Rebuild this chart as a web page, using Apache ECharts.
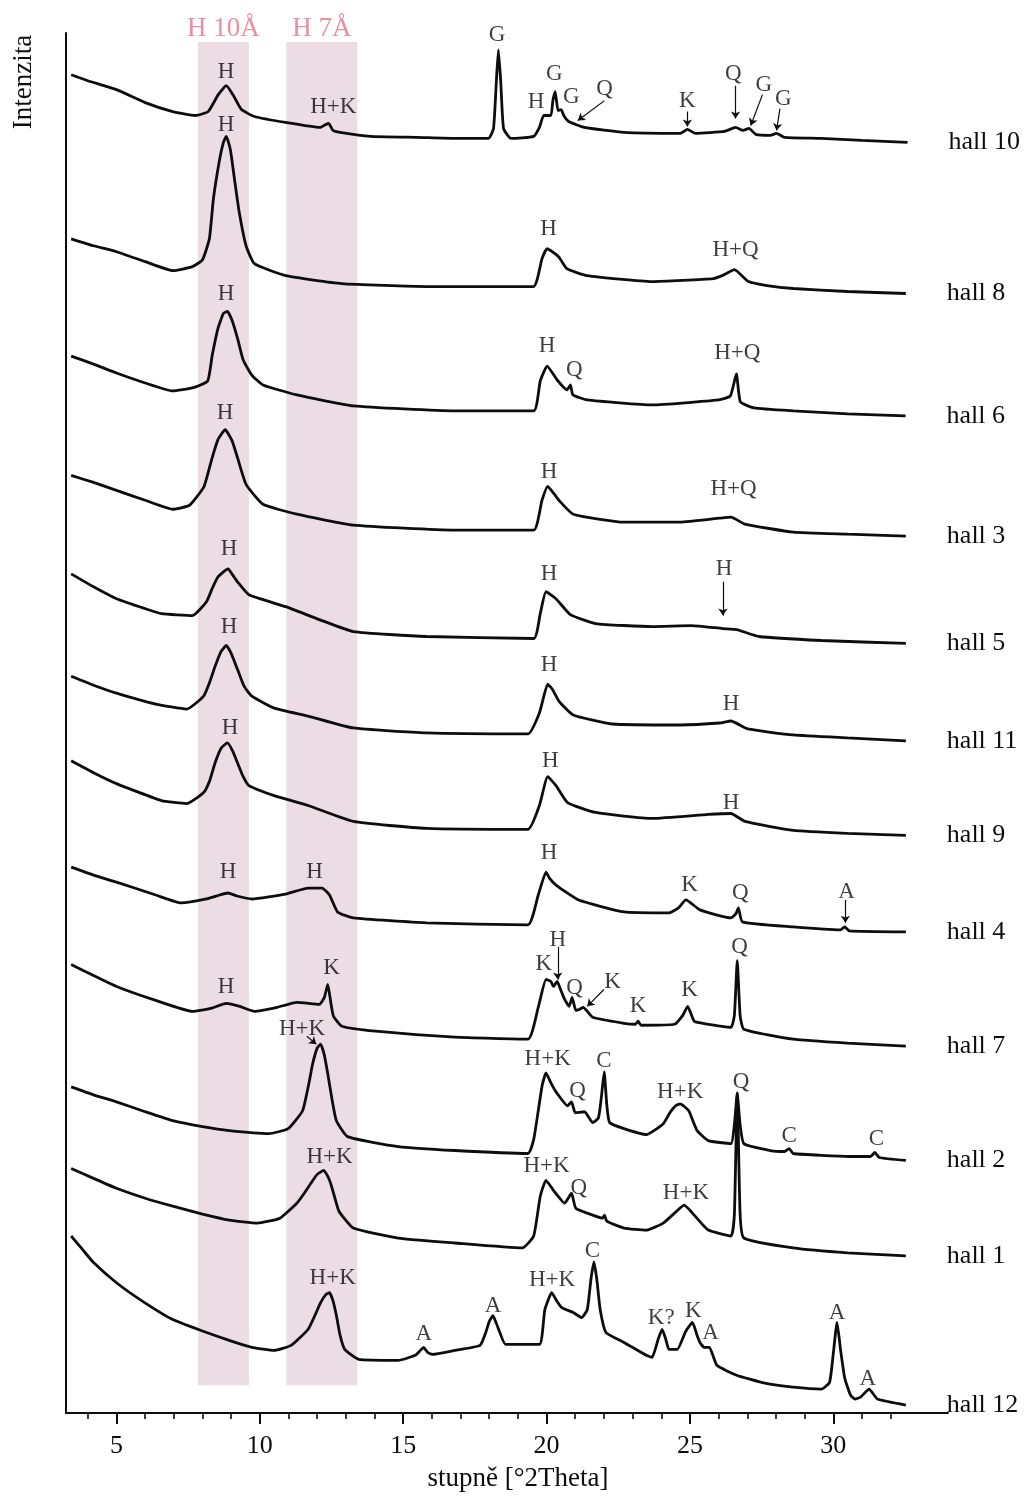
<!DOCTYPE html>
<html>
<head>
<meta charset="utf-8">
<script src="https://cdn.jsdelivr.net/npm/echarts@6/dist/echarts.min.js"></script>
<style>
  html, body { margin: 0; padding: 0; background: #ffffff; }
  #chart { width: 1035px; height: 1497px; }
</style>
</head>
<body>
<div id="chart"></div>
<script>
// XRD patterns of the hall samples, stacked with vertical offsets.
// Each point: [angle in °2Theta, offset intensity]

const hall10 = [
  [3.42,1346],[4.0,1340],[5.0,1331],[6.0,1318],[6.96,1309],[7.75,1305],[8.2,1309],[8.55,1326],[8.83,1335],
  [9.1,1324],[9.36,1311],[9.81,1304],[10.9,1298],[12.1,1293],[12.3,1296],[12.4,1297],[12.55,1290],[12.8,1288],
  [13.85,1284],[15.5,1283],[16.8,1282],[17.97,1282],[18.15,1292],[18.25,1340],[18.32,1371],[18.4,1340],[18.5,1292],
  [18.76,1282],[19.55,1284],[19.75,1293],[19.9,1305],[20.15,1305],[20.22,1320],[20.30,1329],[20.4,1310],[20.51,1311],
  [20.6,1305],[20.77,1299],[21.32,1293],[22.7,1288],[24.66,1287],[24.91,1291],[25.2,1287],[26.2,1289],[26.6,1293],
  [26.85,1290],[27.06,1292],[27.3,1286],[27.8,1285],[28.02,1287],[28.3,1283],[29.58,1282],[31.0,1280],[32.59,1278]
];
const hall8 = [
  [3.42,1181],[4.2,1174],[5.0,1168],[6.0,1158],[6.96,1149],[7.65,1153],[8.0,1160],[8.24,1181],[8.38,1221],
  [8.58,1258],[8.73,1278],[8.83,1284],[8.97,1271],[9.13,1238],[9.28,1208],[9.52,1174],[9.81,1156],[10.9,1144],
  [12.86,1136],[15.81,1133],[19.54,1133],[19.84,1161],[20.02,1171],[20.42,1163],[20.71,1151],[21.41,1144],
  [23.68,1138],[25.82,1141],[26.2,1145],[26.55,1150],[27.04,1138],[27.69,1134],[28.6,1131],[30.5,1128],[32.53,1126]
];
const hall6 = [
  [3.42,1063],[4.2,1055],[5.0,1046],[6.0,1036],[6.96,1028],[7.65,1031],[8.18,1038],[8.34,1064],[8.54,1091],
  [8.73,1106],[8.87,1108],[9.03,1099],[9.22,1081],[9.42,1059],[9.72,1044],[10.11,1034],[11.29,1024],[13.26,1013],
  [16.8,1008],[19.55,1008],[19.78,1038],[20.02,1053],[20.37,1039],[20.71,1029],[20.83,1034],[20.92,1024],
  [21.41,1019],[23.68,1014],[26.0,1019],[26.41,1023],[26.62,1045],[26.76,1017],[27.23,1011],[28.6,1008],
  [30.5,1005],[32.52,1003]
];
const hall3 = [
  [3.42,943],[4.2,936],[5.0,928],[6.0,918],[6.96,909],[7.55,913],[8.04,931],[8.18,944],[8.34,961],[8.54,979],
  [8.79,989],[9.03,978],[9.22,961],[9.52,934],[10.11,914],[11.29,904],[13.26,893],[16.8,888],[19.55,888],
  [19.84,918],[20.04,932],[20.25,925],[20.43,918],[20.93,904],[22.7,896],[24.66,896],[26.04,900],[26.43,901],
  [26.92,894],[28.6,886],[30.5,884],[32.53,882]
];
const hall5 = [
  [3.42,844],[4.2,831],[5.0,819],[6.0,809],[6.57,804],[7.65,802],[8.14,816],[8.35,830],[8.54,841],[8.89,849],
  [9.05,843],[9.22,836],[9.62,823],[10.9,811],[12.08,798],[13.26,786],[15.81,781],[19.55,779],[19.78,804],
  [19.98,826],[20.33,819],[20.83,803],[21.71,794],[23.68,791],[25.05,792],[26.14,789],[26.63,788],[27.41,781],
  [29.58,777],[32.53,774]
];
const hall11 = [
  [3.42,741],[4.2,732],[5.0,724],[6.37,713],[7.45,708],[8.04,721],[8.25,735],[8.44,751],[8.65,766],[8.83,772],
  [9.0,764],[9.22,748],[9.45,731],[9.72,721],[10.5,709],[11.68,701],[13.26,689],[15.81,684],[19.35,683],
  [19.75,704],[20.04,733],[20.2,728],[20.43,716],[20.93,702],[22.3,693],[24.66,692],[26.04,694],[26.43,696],
  [27.02,688],[28.6,682],[30.5,679],[32.53,676]
];
const hall9 = [
  [3.42,656],[4.2,644],[5.0,633],[6.57,616],[7.45,613],[8.04,624],[8.25,636],[8.44,654],[8.66,669],[8.87,674],
  [9.05,666],[9.22,654],[9.42,640],[9.62,631],[10.5,621],[11.68,611],[13.26,595],[15.81,588],[19.35,587],
  [19.75,611],[20.04,640],[20.33,631],[20.73,614],[21.71,604],[23.68,598],[25.64,602],[26.43,603],[26.92,595],
  [28.6,586],[30.5,583],[32.53,581]
];
const hall4 = [
  [3.42,549],[4.2,541],[5.0,534],[6.37,521],[7.26,513],[8.14,517],[8.6,521],[8.89,523],[9.2,520],[9.72,517],
  [10.9,522],[11.68,528],[12.17,528],[12.43,521],[12.71,504],[13.26,498],[15.81,493],[19.35,491],[19.71,521],
  [19.98,544],[20.1,538],[20.33,531],[21.12,516],[22.7,504],[24.27,503],[24.6,508],[24.86,516],[25.35,506],
  [26.43,498],[26.6,502],[26.69,508],[26.83,494],[28.6,489],[30.25,486],[30.4,489],[30.55,485],[32.53,484]
];
const hall7 = [
  [3.42,451],[4.2,440],[5.0,429],[6.37,415],[7.65,404],[8.3,407],[8.83,412],[9.3,409],[9.81,404],[10.6,408],
  [11.29,413],[12.08,411],[12.25,418],[12.37,431],[12.48,412],[12.57,399],[12.86,389],[14.04,384],[16.8,378],
  [19.35,376],[19.71,408],[19.98,436],[20.15,434],[20.24,429],[20.37,434],[20.5,425],[20.63,416],[20.79,409],
  [20.89,418],[21.02,405],[21.15,406],[21.28,408],[21.61,398],[22.7,392],[23.1,391],[23.19,394],[23.3,390],
  [24.46,391],[24.75,400],[24.92,409],[25.15,394],[25.45,392],[26.43,388],[26.55,400],[26.65,455],[26.75,400],
  [26.88,386],[28.6,376],[30.5,372],[32.53,369]
];
const hall2 = [
  [3.42,328],[4.2,320],[5.0,313],[6.0,303],[6.96,294],[8.0,288],[8.93,284],[10.31,281],[10.99,286],[11.49,304],
  [11.7,330],[11.84,351],[12.0,367],[12.12,371],[12.25,360],[12.37,341],[12.52,315],[12.67,294],[13.06,278],
  [14.83,268],[16.8,264],[19.35,261],[19.55,275],[19.71,304],[19.85,330],[19.98,342],[20.15,332],[20.33,323],
  [20.73,309],[20.87,313],[21.0,302],[21.32,303],[21.61,292],[21.81,297],[21.92,320],[22.01,343],[22.1,310],
  [22.2,292],[22.7,286],[23.48,280],[24.07,291],[24.3,302],[24.5,309],[24.66,311],[24.96,304],[25.1,294],
  [25.25,284],[25.64,274],[26.43,271],[26.55,290],[26.65,321],[26.75,290],[26.88,271],[27.81,264],[28.3,263],
  [28.46,266],[28.6,261],[30.56,258],[31.3,258],[31.45,262],[31.6,257],[32.53,254]
];
const hall1 = [
  [3.42,246],[4.2,236],[5.0,226],[6.0,216],[6.96,208],[8.0,200],[8.93,194],[9.91,191],[10.7,196],[11.29,211],
  [11.55,221],[11.78,231],[12.0,240],[12.23,244],[12.37,238],[12.47,231],[12.6,218],[12.76,203],[13.26,186],
  [14.83,176],[16.8,171],[19.15,166],[19.55,178],[19.78,218],[19.98,234],[20.24,224],[20.63,211],[20.87,221],
  [21.02,206],[21.71,198],[21.95,196],[22.02,199],[22.1,193],[22.7,186],[23.48,184],[24.07,191],[24.46,201],
  [24.8,209],[25.15,199],[25.64,184],[26.43,178],[26.55,200],[26.65,322],[26.75,200],[26.88,176],[28.6,166],
  [30.5,161],[32.53,158]
];
const hall12 = [
  [3.42,178],[3.8,165],[4.21,151],[5.0,131],[5.98,111],[6.96,94],[7.95,83],[8.93,73],[9.72,66],[10.5,63],
  [11.09,68],[11.68,84],[11.95,100],[12.12,111],[12.3,119],[12.43,121],[12.55,113],[12.67,98],[12.8,78],
  [12.96,64],[13.45,54],[14.83,53],[15.42,58],[15.6,63],[15.71,66],[15.85,61],[16.01,59],[16.8,63],[17.68,68],
  [17.88,81],[18.0,92],[18.13,98],[18.25,90],[18.37,81],[18.57,69],[19.75,69],[19.94,104],[20.18,121],
  [20.35,113],[20.53,106],[20.93,101],[21.22,96],[21.42,104],[21.55,135],[21.65,152],[21.75,135],[21.87,104],
  [22.07,81],[22.7,71],[23.48,58],[23.68,56],[23.9,75],[24.03,84],[24.15,75],[24.27,64],[24.56,64],[24.85,82],
  [25.09,91],[25.25,78],[25.35,71],[25.5,66],[25.68,66],[25.94,48],[26.63,38],[27.61,30],[28.6,26],[29.58,24],
  [29.87,31],[30.0,60],[30.13,91],[30.26,62],[30.4,35],[30.6,18],[30.76,14],[30.95,16],[31.25,24],[31.54,14],[32.53,8]
];

const sampleNames = ['hall 10','hall 8','hall 6','hall 3','hall 5','hall 11','hall 9','hall 4','hall 7','hall 2','hall 1','hall 12'];
const sampleData  = [hall10, hall8, hall6, hall3, hall5, hall11, hall9, hall4, hall7, hall2, hall1, hall12];

// Phase labels: [angle, intensity, text]
const phaseLabels = [
  // hall 10
  [8.82,1349,'H'],[12.56,1314,'H+K'],[18.27,1386,'G'],[20.27,1347,'G'],[19.63,1319,'H'],[20.86,1324,'G'],
  [22.02,1332,'Q'],[24.91,1320,'K'],[26.51,1347,'Q'],[27.58,1336,'G'],[28.26,1322,'G'],
  // hall 8
  [8.82,1296,'H'],[20.07,1191,'H'],[26.59,1170,'H+Q'],
  // hall 6
  [8.82,1126,'H'],[20.02,1073,'H'],[20.97,1049,'Q'],[26.65,1066,'H+Q'],
  // hall 3
  [8.79,1006,'H'],[20.09,946,'H'],[26.52,929,'H+Q'],
  // hall 5
  [8.93,869,'H'],[20.09,844,'H'],[26.19,849,'H'],
  // hall 11
  [8.93,791,'H'],[20.09,752,'H'],[26.43,713,'H'],
  // hall 9
  [8.96,689,'H'],[20.13,656,'H'],[26.43,614,'H'],
  // hall 4
  [8.89,544,'H'],[11.91,544,'H'],[20.09,563,'H'],[24.99,531,'K'],[26.76,523,'Q'],[30.46,524,'A'],
  // hall 7
  [8.82,429,'H'],[12.5,448,'K'],[19.9,452,'K'],[20.39,476,'H'],[20.98,428,'Q'],[22.3,434,'K'],
  [23.19,409,'K'],[24.99,426,'K'],[26.73,469,'Q'],
  // hall 2
  [11.47,386,'H+K'],[20.04,356,'H+K'],[21.08,324,'Q'],[22.0,354,'C'],[24.66,323,'H+K'],[26.78,333,'Q'],
  [28.46,279,'C'],[31.5,276,'C'],
  // hall 1
  [12.43,258,'H+K'],[20.0,248,'H+K'],[21.12,226,'Q'],[24.86,221,'H+K'],
  // hall 12
  [12.54,136,'H+K'],[15.72,80,'A'],[18.13,108,'A'],[20.19,134,'H+K'],[21.6,163,'C'],[24.0,96,'K?'],
  [25.12,103,'K'],[25.72,81,'A'],[30.13,101,'A'],[31.2,34,'A']
];

// Pointer arrows from a label to its peak: [[x1, y1], [x2, y2]]
const pointerArrows = [
  [[22.02,1320],[21.09,1300]],
  [[24.91,1309],[24.91,1294]],
  [[26.59,1335],[26.59,1302]],
  [[27.53,1326],[27.12,1295]],
  [[28.14,1312],[28.02,1290]],
  [[26.15,836],[26.15,802]],
  [[30.42,516],[30.42,493]],
  [[20.39,469],[20.39,436]],
  [[22.0,426],[21.42,409]],
  [[11.64,379],[11.97,371]]
];

// Shaded reflection ranges: [from, to, caption]
const bandRanges = [
  [7.84, 9.62, 'H 10Å'],
  [10.92, 13.4, 'H 7Å']
];
const bandBottom = 28;
const bandTop = 1379;

const majorTicks = [5, 10, 15, 20, 25, 30];
const minorTicks = [4,5,6,7,8,9,10,11,12,13,14,15,16,17,18,19,20,21,22,23,24,25,26,27,28,29,30,31,32];

const serif = '"Liberation Serif", "Times New Roman", serif';
const ink = '#0d0d0d';
const xMin = 3.24, xMax = 34.0;

const chart = echarts.init(document.getElementById('chart'), null, { renderer: 'canvas' });

const series = [];

series.push({
  type: 'line',
  data: [],
  silent: true,
  z: 1,
  markArea: {
    silent: true,
    itemStyle: { color: '#EBDDE3' },
    label: {
      show: true,
      position: 'top',
      distance: 0,
      color: '#E8909F',
      fontFamily: serif,
      fontSize: 27
    },
    data: bandRanges.map(b => [
      { xAxis: b[0], yAxis: bandBottom, name: b[2] },
      { xAxis: b[1], yAxis: bandTop }
    ])
  }
});

sampleNames.forEach((name, i) => {
  series.push({
    name: name,
    type: 'line',
    data: sampleData[i],
    showSymbol: false,
    smooth: 0.15,
    z: 3,
    lineStyle: { color: ink, width: 2.8 },
    endLabel: {
      show: true,
      formatter: '{a}',
      distance: 41,
      color: ink,
      fontFamily: serif,
      fontSize: 26
    },
    emphasis: { disabled: true }
  });
});

series.push({
  type: 'scatter',
  data: phaseLabels,
  symbolSize: 1,
  itemStyle: { color: 'rgba(0,0,0,0)' },
  z: 4,
  silent: true,
  label: {
    show: true,
    position: 'inside',
    formatter: p => p.value[2],
    color: ink,
    fontFamily: serif,
    fontSize: 23
  }
});

series.push({
  type: 'lines',
  coordinateSystem: 'cartesian2d',
  silent: true,
  z: 4,
  symbol: ['none', 'arrow'],
  symbolSize: 7,
  lineStyle: { color: ink, width: 1.2, opacity: 1 },
  data: pointerArrows.map(a => ({ coords: a }))
});

chart.setOption({
  animation: false,
  backgroundColor: '#ffffff',
  grid: { left: 66, right: 87, top: 33, bottom: 76, containLabel: false },
  xAxis: [
    {
      type: 'value',
      min: xMin,
      max: xMax,
      position: 'bottom',
      name: 'stupně [°2Theta]',
      nameLocation: 'middle',
      nameGap: 52,
      nameTextStyle: { color: ink, fontFamily: serif, fontSize: 27, padding: [0, 0, 0, 22] },
      axisLine: { show: true, onZero: false, lineStyle: { color: ink, width: 2 } },
      axisTick: { show: true, customValues: majorTicks, length: 11, lineStyle: { color: ink, width: 2 } },
      axisLabel: { show: true, customValues: majorTicks, margin: 20, color: ink, fontFamily: serif, fontSize: 26 },
      splitLine: { show: false }
    },
    {
      type: 'value',
      min: xMin,
      max: xMax,
      position: 'bottom',
      offset: 0,
      axisLine: { show: false },
      axisTick: { show: true, customValues: minorTicks, length: 6, lineStyle: { color: ink, width: 1.6 } },
      axisLabel: { show: false },
      splitLine: { show: false }
    }
  ],
  yAxis: {
    type: 'value',
    min: 0,
    max: 1388,
    axisLine: { show: true, onZero: false, lineStyle: { color: ink, width: 2 } },
    axisTick: { show: false },
    axisLabel: { show: false },
    splitLine: { show: false }
  },
  graphic: [
    {
      type: 'text',
      x: 24,
      y: 82,
      rotation: Math.PI / 2,
      style: {
        text: 'Intenzita',
        fill: ink,
        font: '27px ' + serif,
        textAlign: 'center',
        textVerticalAlign: 'middle'
      }
    }
  ],
  series: series
});
</script>
</body>
</html>
